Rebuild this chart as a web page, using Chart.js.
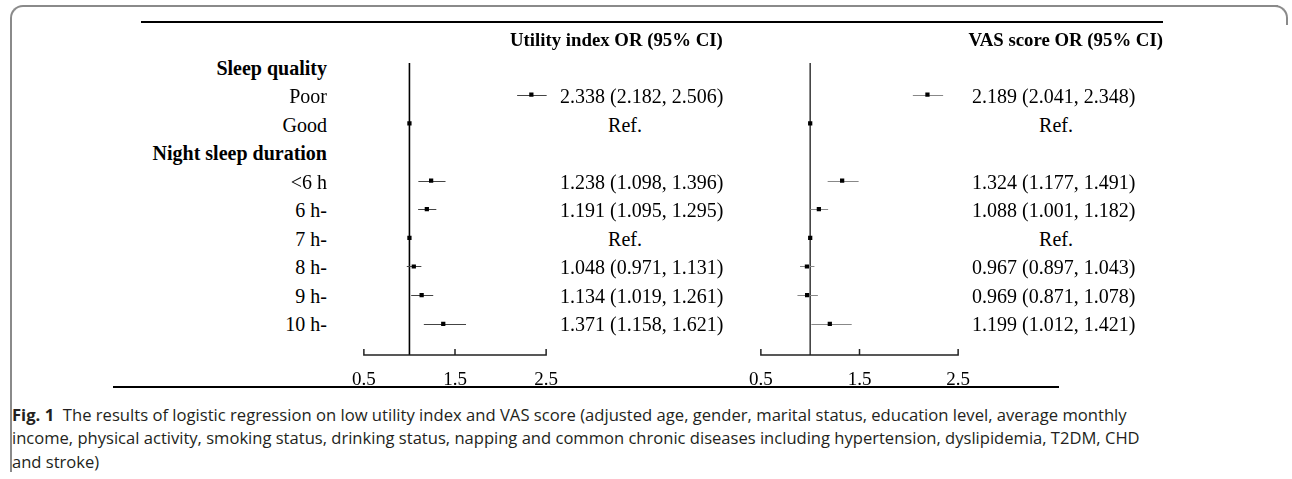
<!DOCTYPE html>
<html>
<head>
<meta charset="utf-8">
<script src="https://cdn.jsdelivr.net/npm/chart.js@4.4.0/dist/chart.umd.min.js"></script>
<style>
  body { margin: 0; background: #fff; }
  #page { position: relative; width: 1292px; height: 479px; overflow: hidden; background: #fff;
          font-family: 'Liberation Serif', 'Times New Roman', serif; color: #000; }
  .txt { position: absolute; font-size: 20px; line-height: 24px; white-space: nowrap; }
  .bold { font-weight: bold; }
  .colhead { font-size: 18.8px; }
  .rule { position: absolute; height: 2px; background: #000; }
  canvas { position: absolute; }
  .frame { position: absolute; left: 10px; top: 5px; width: 1266px; height: 465px;
           border-top: 2px solid #8a8a8a; border-left: 2px solid #8a8a8a; border-top-left-radius: 13px; }
  .corner { position: absolute; left: 1262px; top: 5px; width: 24px; height: 18px;
            border-top: 2px solid #8a8a8a; border-right: 2px solid #8a8a8a; border-top-right-radius: 13px; }
  .cap { position: absolute; left: 12px; font-family: 'Open Sans', 'Noto Sans', sans-serif; font-size: 15px;
         line-height: 22px; white-space: nowrap; color: #231f20; }
</style>
</head>
<body>
<div id="page">
  <div class="frame"></div>
  <div class="corner"></div>
  <div class="rule" style="left:141px; top:21px; width:1022px;"></div>
  <div class="rule" style="left:113px; top:386px; width:946px;"></div>
  <canvas id="utilChart" width="234" height="345" style="left:338px; top:50px;"></canvas>
  <canvas id="vasChart" width="249" height="345" style="left:735px; top:50px;"></canvas>
  <div class="cap" id="cap1" style="top:404px;"><b>Fig. 1</b>&nbsp; The results of logistic regression on low utility index and VAS score (adjusted age, gender, marital status, education level, average monthly</div>
  <div class="cap" id="cap2" style="top:427px;">income, physical activity, smoking status, drinking status, napping and common chronic diseases including hypertension, dyslipidemia, T2DM, CHD</div>
  <div class="cap" id="cap3" style="top:451px;">and stroke)</div>
</div>
<script>
console.log('forest plot: Loaded');

// rows of the table, top to bottom
const rowLabels = ['Sleep quality', 'Poor', 'Good', 'Night sleep duration', '<6 h', '6 h-', '7 h-', '8 h-', '9 h-', '10 h-'];
const headerRows = [0, 3];
const refRows = [2, 6];

// Utility index OR (95% CI)
const utilOR = [null, 2.338, 1, null, 1.238, 1.191, 1, 1.048, 1.134, 1.371];
const utilLo = [null, 2.182, null, null, 1.098, 1.095, null, 0.971, 1.019, 1.158];
const utilHi = [null, 2.506, null, null, 1.396, 1.295, null, 1.131, 1.261, 1.621];

// VAS score OR (95% CI)
const vasOR = [null, 2.189, 1, null, 1.324, 1.088, 1, 0.967, 0.969, 1.199];
const vasLo = [null, 2.041, null, null, 1.177, 1.001, null, 0.897, 0.871, 1.012];
const vasHi = [null, 2.348, null, null, 1.491, 1.182, null, 1.043, 1.078, 1.421];

const xTicks = [0.5, 1.5, 2.5];

const serif = "'Liberation Serif', 'Times New Roman', serif";
const page = document.getElementById('page');

// text centre of row i on the page
function rowCenter(i) {
    return 68 + 28.45 * i;
}

function addText(text, style, cls) {
    const d = document.createElement('div');
    d.className = 'txt' + (cls ? ' ' + cls : '');
    d.textContent = text;
    Object.assign(d.style, style);
    page.appendChild(d);
    return d;
}

function orText(or, lo, hi, i) {
    if (refRows.includes(i)) return 'Ref.';
    if (or == null) return '';
    return or.toFixed(3) + ' (' + lo.toFixed(3) + ', ' + hi.toFixed(3) + ')';
}

// draws reference line, CI whiskers and the axis with inward ticks
function forestPlugin(lo, hi, refColor, ciColor) {
    return {
        id: 'forest',
        beforeDatasetsDraw(chart) {
            const { ctx, chartArea, scales: { x, y } } = chart;
            ctx.save();
            const x1 = x.getPixelForValue(1);
            ctx.strokeStyle = refColor;
            ctx.lineWidth = 1.6;
            ctx.beginPath();
            ctx.moveTo(x1, chartArea.top);
            ctx.lineTo(x1, chartArea.bottom);
            ctx.stroke();

            ctx.strokeStyle = ciColor;
            ctx.lineWidth = 1;
            lo.forEach((l, i) => {
                const h = hi[i];
                if (l == null || h == null) return;
                const py = Math.round(y.getPixelForValue(i)) + 0.5;
                ctx.beginPath();
                ctx.moveTo(x.getPixelForValue(l), py);
                ctx.lineTo(x.getPixelForValue(h), py);
                ctx.stroke();
            });

            const ay = chartArea.bottom;
            ctx.strokeStyle = '#222';
            ctx.lineWidth = 1.5;
            ctx.beginPath();
            ctx.moveTo(x.getPixelForValue(xTicks[0]), ay);
            ctx.lineTo(x.getPixelForValue(xTicks[xTicks.length - 1]), ay);
            x.ticks.forEach(t => {
                const px = x.getPixelForValue(t.value);
                ctx.moveTo(px, ay + 0.75);
                ctx.lineTo(px, ay - 6);
            });
            ctx.stroke();
            ctx.restore();
        }
    };
}

function makePanel(canvasId, or, lo, hi, refColor, ciColor) {
    const points = [];
    or.forEach((v, i) => {
        if (v != null) points.push({ x: v, y: i });
    });
    return new Chart(document.getElementById(canvasId), {
        type: 'scatter',
        data: {
            datasets: [{
                data: points,
                pointStyle: 'rect',
                pointRadius: 3,
                pointHoverRadius: 3,
                pointBackgroundColor: '#000',
                pointBorderWidth: 0
            }]
        },
        options: {
            responsive: false,
            animation: false,
            events: [],
            layout: { padding: { left: 13, right: 13, top: 13, bottom: 6 } },
            plugins: { legend: { display: false }, tooltip: { enabled: false } },
            scales: {
                x: {
                    type: 'linear',
                    min: xTicks[0],
                    max: xTicks[xTicks.length - 1],
                    grid: { display: false, drawTicks: false },
                    border: { display: false },
                    afterBuildTicks: s => { s.ticks = xTicks.map(v => ({ value: v })); },
                    afterFit: s => { s.height = 34; },
                    ticks: {
                        padding: 14,
                        color: '#000',
                        font: { family: serif, size: 19 },
                        callback: v => v.toFixed(1)
                    }
                },
                y: { type: 'linear', reverse: true, min: -0.105, max: 10.09, display: false }
            }
        },
        plugins: [forestPlugin(lo, hi, refColor, ciColor)]
    });
}

// headers
addText('Utility index OR (95% CI)', { left: '510px', top: '28px' }, 'bold colhead');
addText('VAS score OR (95% CI)', { right: (1292 - 1163) + 'px', top: '28px' }, 'bold colhead');

// row labels and OR columns
rowLabels.forEach((label, i) => {
    const top = (rowCenter(i) - 12) + 'px';
    addText(label, { right: (1292 - 327) + 'px', top: top }, headerRows.includes(i) ? 'bold' : '');
    const u = orText(utilOR[i], utilLo[i], utilHi[i], i);
    const v = orText(vasOR[i], vasLo[i], vasHi[i], i);
    if (u === 'Ref.') {
        addText(u, { left: '625px', top: top, transform: 'translateX(-50%)' });
    } else if (u) {
        addText(u, { left: '560px', top: top });
    }
    if (v === 'Ref.') {
        addText(v, { left: '1056px', top: top, transform: 'translateX(-50%)' });
    } else if (v) {
        addText(v, { left: '972px', top: top });
    }
});

makePanel('utilChart', utilOR, utilLo, utilHi, '#000', '#444');
makePanel('vasChart', vasOR, vasLo, vasHi, '#444', '#888');

// fit caption lines to the widths in the figure
function fitLine(id, width) {
    const el = document.getElementById(id);
    const size = parseFloat(getComputedStyle(el).fontSize);
    const s = size * width / el.scrollWidth;
    el.style.fontSize = s.toFixed(2) + 'px';
    return s;
}
fitLine('cap1', 1116);
const s2 = fitLine('cap2', 1128);
document.getElementById('cap3').style.fontSize = s2.toFixed(2) + 'px';
console.log('forest plot: Done');
</script>
</body>
</html>
